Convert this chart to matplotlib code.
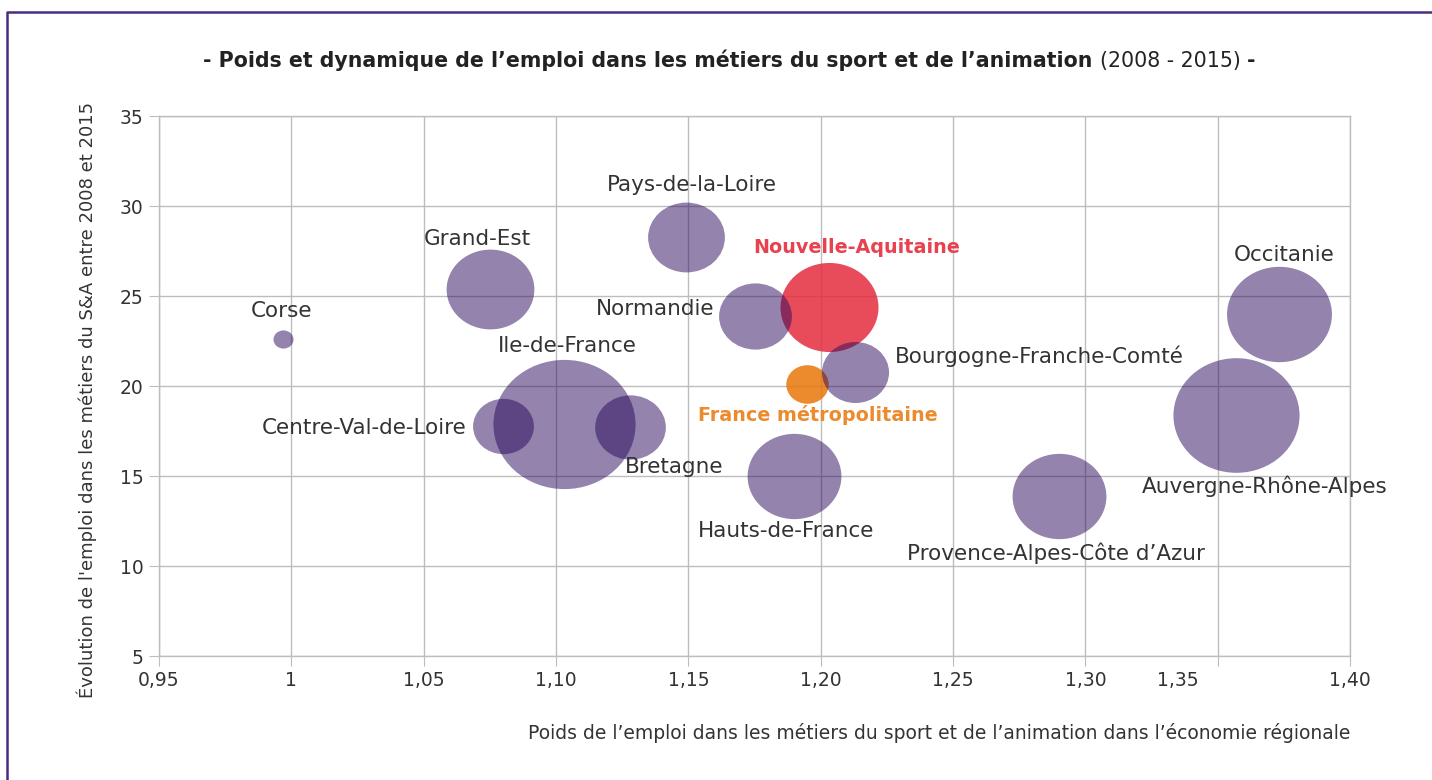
import matplotlib
matplotlib.use("Agg")
import matplotlib.pyplot as plt
from matplotlib.path import Path
from matplotlib.markers import MarkerStyle
from matplotlib.transforms import Affine2D, ScaledTranslation
from matplotlib.lines import Line2D

# ── Data ─────────────────────────────────────────────────────
regions = ["Corse", "Grand-Est", "Pays-de-la-Loire", "Nouvelle-Aquitaine",
           "Normandie", "Bourgogne-Franche-Comté", "France métropolitaine",
           "Occitanie", "Auvergne-Rhône-Alpes", "Provence-Alpes-Côte d’Azur",
           "Hauts-de-France", "Ile-de-France", "Centre-Val-de-Loire", "Bretagne"]
poids = [0.997, 1.075, 1.149, 1.203, 1.175, 1.213, 1.195,
         1.373, 1.357, 1.290, 1.190, 1.103, 1.080, 1.128]
evolution = [22.6, 25.4, 28.3, 24.4, 23.9, 20.8, 20.1,
             24.0, 18.4, 13.9, 15.0, 17.9, 17.8, 17.7]
taille = [4, 77, 59, 96, 53, 45, 18, 110, 159, 88, 88, 202, 37, 50]

x_ticks = [0.95, 1.00, 1.05, 1.10, 1.15, 1.20, 1.25, 1.30, 1.35, 1.40]
x_ticklabels = ["0,95", "1", "1,05", "1,10", "1,15", "1,20", "1,25",
                "1,30", "1,35", "1,40"]
y_ticks = [5, 10, 15, 20, 25, 30, 35]

# ── Style ────────────────────────────────────────────────────
W, H = 1432, 780
PURPLE = "#29095d"
RED = "#e42d3d"
ORANGE = "#e97609"
RED_TXT = "#e8414f"
ORANGE_TXT = "#ec8a2e"
DARK = "#333333"
GRID = "#bdbdbd"
FRAME = "#4b2a84"

special = {"Nouvelle-Aquitaine": (RED, RED_TXT),
           "France métropolitaine": (ORANGE, ORANGE_TXT)}

# label offsets from bubble centre, in pixels
lab_off = {
    "Corse": (-2, 28), "Grand-Est": (-13, 50), "Pays-de-la-Loire": (6, 52),
    "Nouvelle-Aquitaine": (28, 59), "Normandie": (-99, 7),
    "Bourgogne-Franche-Comté": (184, 15), "France métropolitaine": (10, -31),
    "Occitanie": (6, 59), "Auvergne-Rhône-Alpes": (29, -71),
    "Provence-Alpes-Côte d’Azur": (-3, -57), "Hauts-de-France": (-8, -55),
    "Ile-de-France": (3, 78), "Centre-Val-de-Loire": (-139, -2),
    "Bretagne": (44, -40),
}

plt.rcParams.update({"font.family": "DejaVu Sans", "text.color": DARK})

fig = plt.figure(figsize=(W / 100, H / 100), dpi=100)
ax = fig.add_axes([159 / W, 1 - 656 / H, (1350 - 159) / W, (656 - 116) / H])

# slightly wide elliptical bubble marker
ell = MarkerStyle(Path.unit_circle().transformed(Affine2D().scale(1.1, 1.0)))

for i, name in enumerate(regions):
    d_px = 10 * taille[i] ** 0.5
    s = (0.72 * d_px) ** 2
    if name in special:
        ax.scatter(poids[i], evolution[i], s=s, marker=ell, color=special[name][0],
                   alpha=0.85, lw=0, zorder=2)
        tc, wt, fs = special[name][1], "bold", 13.8
    else:
        ax.scatter(poids[i], evolution[i], s=s, marker=ell, color=PURPLE,
                   alpha=0.5, lw=0, zorder=3)
        tc, wt, fs = DARK, "normal", 15.5
    ax.annotate(name, (poids[i], evolution[i]), xytext=lab_off[name],
                textcoords="offset pixels", ha="center", va="center",
                fontsize=fs, color=tc, fontweight=wt, zorder=5)

ax.set_xlim(0.95, 1.40)
ax.set_ylim(5, 35)
ax.set_xticks(x_ticks)
ax.set_xticklabels(x_ticklabels)
ax.set_yticks(y_ticks)
ax.grid(True, color=GRID, lw=1)
ax.set_axisbelow(True)
for sp in ax.spines.values():
    sp.set_color(GRID)
    sp.set_linewidth(1)
ax.tick_params(length=7, color=GRID, labelsize=13.5, labelcolor=DARK, pad=4)

# the 1,35 label sits left of its gridline in the original
lbl = ax.get_xticklabels()[8]
lbl.set_transform(lbl.get_transform() + ScaledTranslation(-40 / 100, 0, fig.dpi_scale_trans))

ax.set_ylabel("Évolution de l'emploi dans les métiers du S&A entre 2008 et 2015",
              fontsize=13, color=DARK)
ax.yaxis.set_label_coords(-0.052, 0.474)
fig.text(1350 / W, 1 - 733 / H,
         "Poids de l’emploi dans les métiers du sport et de l’animation dans l’économie régionale",
         ha="right", va="center", fontsize=13.5, color=DARK)

# ── Title in three pieces ────────────────────────────────────
t1 = fig.text(203 / W, 1 - 60 / H,
              "- Poids et dynamique de l’emploi dans les métiers du sport et de l’animation ",
              ha="left", va="center", fontsize=14.8, fontweight="bold", color="#222222")
t2 = ax.annotate("(2008 - 2015) ", xy=(1, 0), xycoords=t1, va="bottom", ha="left",
                 fontsize=14.8, color="#222222", annotation_clip=False)
ax.annotate("-", xy=(1, 0), xycoords=t2, va="bottom", ha="left",
            fontsize=14.8, fontweight="bold", color="#222222", annotation_clip=False)

# purple frame (left and top)
fig.add_artist(Line2D([7 / W, 7 / W, 1.0], [0.0, 1 - 12 / H, 1 - 12 / H],
                      transform=fig.transFigure, color=FRAME, lw=1.8))

fig.savefig("out.png", dpi=100, facecolor="white")
